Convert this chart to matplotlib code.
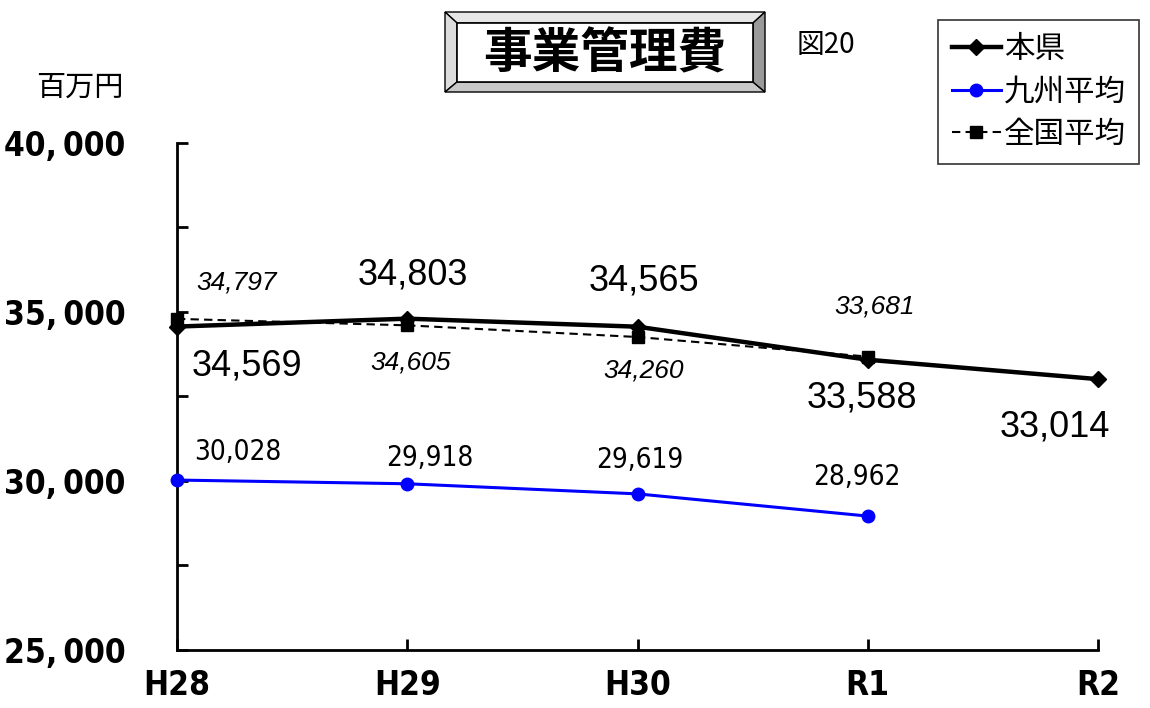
import matplotlib
matplotlib.use("Agg")
import matplotlib.pyplot as plt
from matplotlib import font_manager as fm
from matplotlib.patches import Polygon, Rectangle

plt.rcParams['font.family'] = ['Noto Sans CJK JP', 'DejaVu Sans']

# ---- data ----
categories = ["H28", "H29", "H30", "R1", "R2"]
honken = [34569, 34803, 34565, 33588, 33014]
kyushu = [30028, 29918, 29619, 28962]
zenkoku = [34797, 34605, 34260, 33681]
yticks_major = [25000, 27500, 30000, 32500, 35000, 37500, 40000]
ytick_labels = ["25,\u2009000", "", "30,\u2009000", "", "35,\u2009000", "", "40,\u2009000"]
series_names = ["本県", "九州平均", "全国平均"]

# label offsets (pixels)
off_honken = [(70, -39), (6, 44), (6, 46), (-6, -38), (-43, -48)]
off_zenkoku = [(60, 36), (3, -37), (6, -33), (7, 50)]
off_kyushu = [(61, 28), (23, 26), (2, 34), (-11, 39)]


def find_narrow(bold=True):
    best = None
    for f in fm.fontManager.ttflist:
        nm = f.name
        st = str(f.stretch)
        narrow = ('Narrow' in nm or 'Condensed' in nm or
                  st in ('condensed', 'semi-condensed', 'extra-condensed', '75', '87.5', '62.5'))
        if not narrow:
            continue
        w = f.weight if isinstance(f.weight, int) else (700 if 'bold' in str(f.weight) else 400)
        score = 0
        if bold and w >= 600:
            score += 10
        if not bold and w < 600:
            score += 10
        if f.style != 'normal':
            score -= 20
        if 'Liberation' in nm:
            score += 3
        if 'DejaVu' in nm:
            score += 2
        if best is None or score > best[0]:
            best = (score, f.fname)
    return fm.FontProperties(fname=best[1]) if best else None


narrow_bold = find_narrow(True)
narrow_reg = find_narrow(False)

W, H = 1150, 708
fig = plt.figure(figsize=(W / 100, H / 100), dpi=100)
ax = fig.add_axes([177 / W, 1 - 650 / H, (1098 - 177) / W, (650 - 143) / H])

x = list(range(len(categories)))
l1, = ax.plot(x, honken, color='black', lw=3.2, marker='D', ms=8, zorder=4, clip_on=False)
l2, = ax.plot(x[:4], kyushu, color='#0000ff', lw=2.2, marker='o', ms=9, zorder=3, clip_on=False)
l3, = ax.plot(x[:4], zenkoku, color='black', lw=1.5, ls=(0, (4, 2.5)), marker='s', ms=8,
              zorder=3, clip_on=False)

ax.set_xlim(0, 4)
ax.set_ylim(25000, 40000)
ax.set_yticks(yticks_major)
ax.set_yticklabels(ytick_labels)
ax.set_xticks(x)
ax.set_xticklabels(categories)
for s in ['top', 'right']:
    ax.spines[s].set_visible(False)
for s in ['left', 'bottom']:
    ax.spines[s].set_linewidth(2)
ax.tick_params(axis='both', direction='in', length=8, width=2)
ax.tick_params(axis='y', pad=37)
ax.tick_params(axis='x', pad=14)
for lab in ax.get_yticklabels() + ax.get_xticklabels():
    if narrow_bold is not None:
        lab.set_fontproperties(narrow_bold)
        lab.set_fontsize(24)
    else:
        lab.set_fontfamily(['DejaVu Sans'])
        lab.set_fontweight('bold')
        lab.set_fontsize(21)

for i, v in enumerate(honken):
    ax.annotate(f"{v:,}", (x[i], v), xytext=off_honken[i], textcoords='offset pixels',
                ha='center', va='center', fontsize=26,
                family=['Liberation Sans', 'DejaVu Sans'], zorder=6)
for i, v in enumerate(zenkoku):
    ax.annotate(f"{v:,}", (x[i], v), xytext=off_zenkoku[i], textcoords='offset pixels',
                ha='center', va='center', fontsize=19, style='italic',
                family=['Liberation Sans', 'DejaVu Sans'], zorder=6)
for i, v in enumerate(kyushu):
    t = ax.annotate(f"{v:,}", (x[i], v), xytext=off_kyushu[i], textcoords='offset pixels',
                    ha='center', va='center', fontsize=19,
                    family=['Liberation Sans', 'DejaVu Sans'], zorder=6)
    if narrow_reg is not None:
        t.set_fontproperties(narrow_reg)
        t.set_fontsize(20)

# overlay in pixel coords
ov = fig.add_axes([0, 0, 1, 1])
ov.set_xlim(0, W)
ov.set_ylim(H, 0)
ov.axis('off')
ov.patch.set_alpha(0)

ox0, oy0, ox1, oy1 = 445, 12, 765, 92
ix0, iy0, ix1, iy1 = 457, 23, 753, 82
ov.add_patch(Polygon([(ox0, oy0), (ox1, oy0), (ix1, iy0), (ix0, iy0)], closed=True,
                     fc='#e6e6e6', ec='black', lw=1))
ov.add_patch(Polygon([(ox0, oy0), (ix0, iy0), (ix0, iy1), (ox0, oy1)], closed=True,
                     fc='#dcdcdc', ec='black', lw=1))
ov.add_patch(Polygon([(ox0, oy1), (ix0, iy1), (ix1, iy1), (ox1, oy1)], closed=True,
                     fc='#c8c8c8', ec='black', lw=1))
ov.add_patch(Polygon([(ox1, oy0), (ox1, oy1), (ix1, iy1), (ix1, iy0)], closed=True,
                     fc='#9a9a9a', ec='black', lw=1))
ov.add_patch(Rectangle((ix0, iy0), ix1 - ix0, iy1 - iy0, fc='white', ec='black', lw=1.2))
ov.text((ix0 + ix1) / 2, (iy0 + iy1) / 2 + 1, "事業管理費", ha='center', va='center',
        fontsize=35, fontweight='bold', family=['Noto Sans CJK JP'])
ov.text(826, 45, "図20", ha='center', va='center', fontsize=20)
ov.text(80, 88, "百万円", ha='center', va='center', fontsize=21)

leg = fig.legend([l1, l2, l3], series_names, loc='upper left',
                 bbox_to_anchor=(938 / W, 1 - 20 / H), fontsize=22, frameon=True,
                 fancybox=False, edgecolor='black', handlelength=1.6, handletextpad=0.1,
                 labelspacing=0.38, borderpad=0.45, borderaxespad=0)
leg.get_frame().set_linewidth(1.2)

fig.savefig("out.png", dpi=100)
